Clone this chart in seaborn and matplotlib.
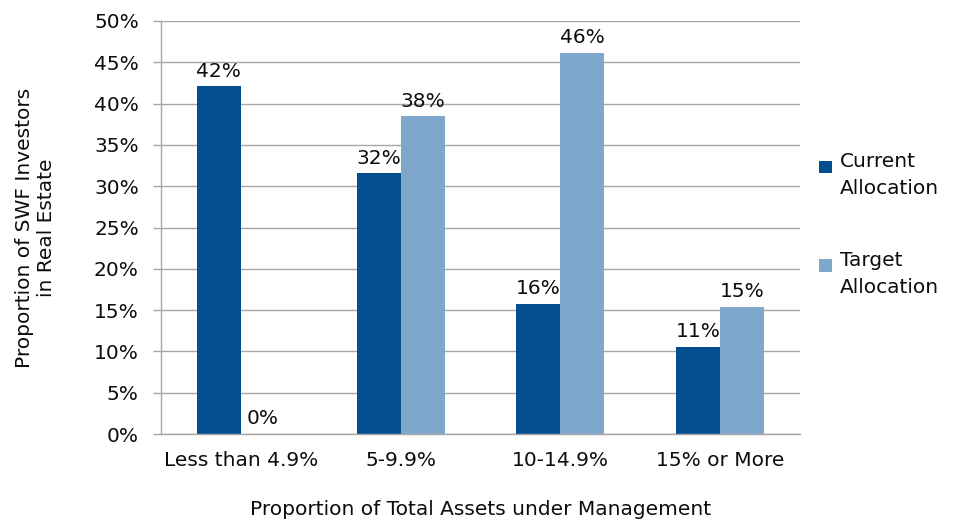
import matplotlib
matplotlib.use("Agg")
import matplotlib.pyplot as plt
import seaborn as sns
import pandas as pd
from matplotlib.patches import Patch, Rectangle
from matplotlib.legend_handler import HandlerPatch

categories = ["Less than 4.9%", "5-9.9%", "10-14.9%", "15% or More"]
current = [42.11, 31.58, 15.79, 10.53]
target = [0.0, 38.46, 46.15, 15.38]
series = ["Current\nAllocation", "Target\nAllocation"]
yticks = [0, 5, 10, 15, 20, 25, 30, 35, 40, 45, 50]
colors = ["#034E8E", "#7FA7CB"]

df = pd.DataFrame({
    "cat": categories * 2,
    "val": current + target,
    "series": [series[0]] * 4 + [series[1]] * 4,
})

sns.set_theme(style="white")
plt.rcParams["font.family"] = ["DejaVu Sans"]
TXT = "#0d0d0d"

fig = plt.figure(figsize=(9.7, 5.2), dpi=100)
ax = fig.add_axes([161 / 970, 1 - 434 / 520, 639 / 970, 413 / 520])

sns.barplot(data=df, x="cat", y="val", hue="series", palette=colors,
            width=0.55, ax=ax, legend=False, saturation=1, errorbar=None,
            linewidth=0)

ax.set_ylim(0, 50)
ax.set_xlim(-0.5, 3.5)
ax.set_yticks(yticks)
ax.set_yticklabels([f"{t}%" for t in yticks], fontsize=14.5, color=TXT)
ax.yaxis.grid(True, color="#A6A6A6", linewidth=1)
ax.set_axisbelow(True)

ax.set_xticks([i for i in range(len(categories))])
ax.set_xticklabels(categories, fontsize=14.5, color=TXT)
ax.set_xticks([i - 0.5 for i in range(len(categories) + 1)], minor=True)
ax.tick_params(axis="x", which="major", length=0, pad=12)
ax.tick_params(axis="x", which="minor", length=6, color="#A6A6A6", width=1, direction="out")
ax.tick_params(axis="y", length=6, color="#A6A6A6", width=1, direction="out", left=True, pad=10)

for s in ["top", "right"]:
    ax.spines[s].set_visible(False)
for s in ["left", "bottom"]:
    ax.spines[s].set_color("#A6A6A6")
    ax.spines[s].set_linewidth(1)

for cont in ax.containers:
    ax.bar_label(cont, labels=[f"{int(v + 0.5)}%" for v in cont.datavalues],
                 fontsize=14.5, padding=4, color=TXT)

ax.set_xlabel("Proportion of Total Assets under Management", fontsize=14.5,
              labelpad=22, color=TXT)
ax.set_ylabel("Proportion of SWF Investors\nin Real Estate", fontsize=14.5,
              color=TXT)
ax.yaxis.set_label_coords((56 - 161) / 639, 0.5)


class TopSquare(HandlerPatch):
    def create_artists(self, legend, orig_handle, xdescent, ydescent, width,
                       height, fontsize, trans):
        sq = 0.62 * fontsize
        r = Rectangle((-xdescent, -ydescent + height - sq - 0.12 * fontsize), sq, sq,
                      facecolor=orig_handle.get_facecolor(), edgecolor="none",
                      transform=trans)
        return [r]


handles = [Patch(facecolor=c, edgecolor="none") for c in colors]
leg = fig.legend(handles, series, loc="upper left",
                 bbox_to_anchor=(801 / 970, 1 - 134 / 520),
                 frameon=False, fontsize=14.5, handlelength=0.75, handleheight=2.4,
                 handletextpad=0.3, labelspacing=2.6,
                 handler_map={Patch: TopSquare()})
for t in leg.get_texts():
    t.set_linespacing(1.55)
    t.set_color(TXT)

fig.savefig("out.png", dpi=100)
